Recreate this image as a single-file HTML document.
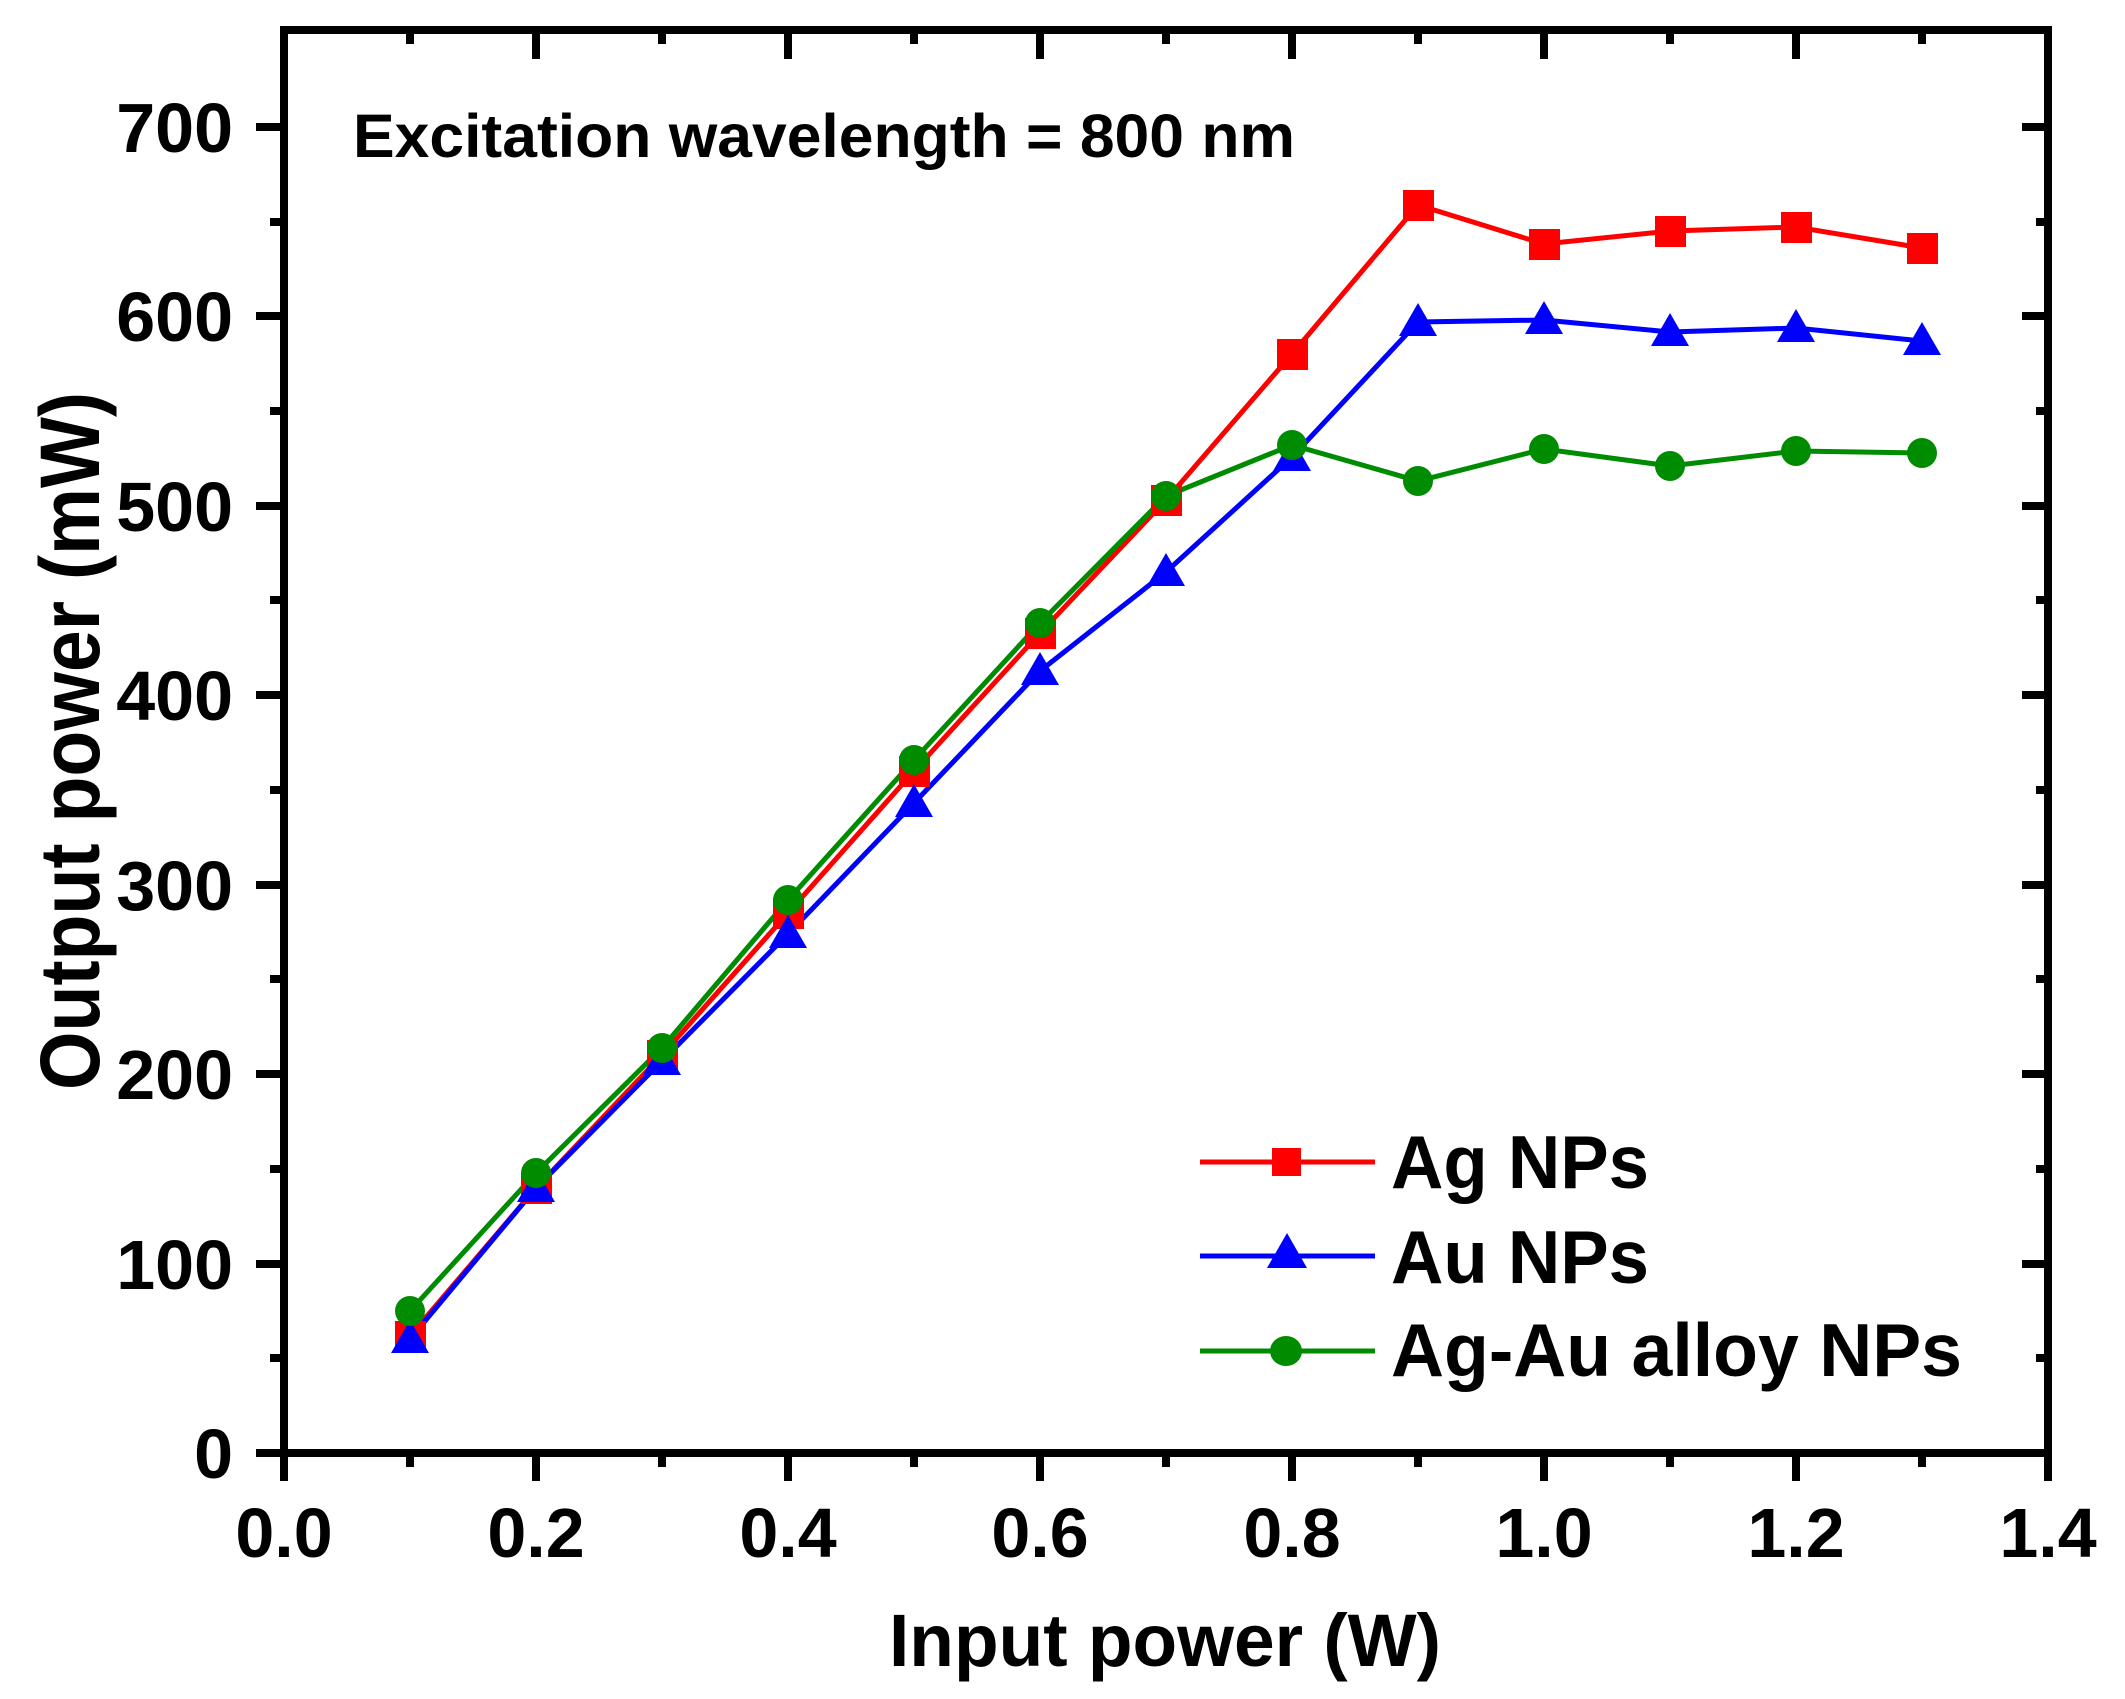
<!DOCTYPE html>
<html><head><meta charset="utf-8"><style>html,body{margin:0;padding:0;background:#fff}svg{display:block}</style></head>
<body>
<svg width="2125" height="1699" viewBox="0 0 2125 1699" xmlns="http://www.w3.org/2000/svg" font-family="Liberation Sans, Arial, sans-serif" font-weight="bold">
<rect width="2125" height="1699" fill="#fff"/>
<g stroke="#000" stroke-width="8" fill="none">
<rect x="284" y="30" width="1764" height="1423"/>
<path d="M284 1453V1481M536 1453V1481M788 1453V1481M1040 1453V1481M1292 1453V1481M1544 1453V1481M1796 1453V1481M2048 1453V1481"/>
<path d="M410 1453V1467M662 1453V1467M914 1453V1467M1166 1453V1467M1418 1453V1467M1670 1453V1467M1922 1453V1467"/>
<path d="M536 30V59M788 30V59M1040 30V59M1292 30V59M1544 30V59M1796 30V59"/>
<path d="M410 30V44M662 30V44M914 30V44M1166 30V44M1418 30V44M1670 30V44M1922 30V44"/>
<path d="M256 1453H284M256 1264H284M256 1074H284M256 885H284M256 695H284M256 506H284M256 316H284M256 127H284"/>
<path d="M270 1358H284M270 1169H284M270 979H284M270 790H284M270 600H284M270 411H284M270 222H284"/>
<path d="M2022 1264H2048M2022 1074H2048M2022 885H2048M2022 695H2048M2022 506H2048M2022 316H2048M2022 127H2048"/>
<path d="M2036 1358H2048M2036 1169H2048M2036 979H2048M2036 790H2048M2036 600H2048M2036 411H2048M2036 222H2048"/>
</g>
<g font-size="70" fill="#000">
<g text-anchor="middle">
<text x="284" y="1557">0.0</text><text x="536" y="1557">0.2</text><text x="788" y="1557">0.4</text><text x="1040" y="1557">0.6</text><text x="1292" y="1557">0.8</text><text x="1544" y="1557">1.0</text><text x="1796" y="1557">1.2</text><text x="2048" y="1557">1.4</text>
</g>
<g text-anchor="end">
<text x="233" y="1478">0</text><text x="233" y="1289">100</text><text x="233" y="1099">200</text><text x="233" y="910">300</text><text x="233" y="720">400</text><text x="233" y="531">500</text><text x="233" y="341">600</text><text x="233" y="152">700</text>
</g>
</g>
<text x="889" y="1666" font-size="74" textLength="552" lengthAdjust="spacingAndGlyphs">Input power (W)</text>
<text transform="translate(99,1090) rotate(-90)" font-size="84" textLength="698" lengthAdjust="spacingAndGlyphs">Output power (mW)</text>
<text x="353" y="157" font-size="61" textLength="942" lengthAdjust="spacingAndGlyphs">Excitation wavelength = 800 nm</text>

<polyline fill="none" stroke="#ff0000" stroke-width="5" points="410,1336 536,1188 662,1055 788,913 914,771 1040,633 1166,500 1292,354 1418,205 1544,244 1670,231 1796,227 1922,248"/>
<polyline fill="none" stroke="#0000ff" stroke-width="5" points="410,1339 536,1188 662,1061 788,934 914,803 1040,671 1166,572 1292,457 1418,322 1544,320 1670,332 1796,328 1922,341"/>
<polyline fill="none" stroke="#008c00" stroke-width="5" points="410,1311 536,1173 662,1048 788,900 914,760 1040,623 1166,496 1292,445 1418,481 1544,449 1670,466 1796,451 1922,453"/>
<g fill="#ff0000">
<rect x="395" y="1321" width="31" height="31"/><rect x="521" y="1173" width="31" height="31"/><rect x="647" y="1040" width="31" height="31"/><rect x="773" y="898" width="31" height="31"/><rect x="899" y="756" width="31" height="31"/><rect x="1025" y="618" width="31" height="31"/><rect x="1151" y="485" width="31" height="31"/><rect x="1277" y="339" width="31" height="31"/><rect x="1403" y="190" width="31" height="31"/><rect x="1529" y="229" width="31" height="31"/><rect x="1655" y="216" width="31" height="31"/><rect x="1781" y="212" width="31" height="31"/><rect x="1907" y="233" width="31" height="31"/>
</g>
<g fill="#0000ff">
<path d="M410 1320l19 33h-38z"/><path d="M536 1169l19 33h-38z"/><path d="M662 1042l19 33h-38z"/><path d="M788 915l19 33h-38z"/><path d="M914 784l19 33h-38z"/><path d="M1040 652l19 33h-38z"/><path d="M1166 553l19 33h-38z"/><path d="M1292 438l19 33h-38z"/><path d="M1418 303l19 33h-38z"/><path d="M1544 301l19 33h-38z"/><path d="M1670 313l19 33h-38z"/><path d="M1796 309l19 33h-38z"/><path d="M1922 322l19 33h-38z"/>
</g>
<g fill="#008c00">
<circle cx="410" cy="1311" r="15"/><circle cx="536" cy="1173" r="15"/><circle cx="662" cy="1048" r="15"/><circle cx="788" cy="900" r="15"/><circle cx="914" cy="760" r="15"/><circle cx="1040" cy="623" r="15"/><circle cx="1166" cy="496" r="15"/><circle cx="1292" cy="445" r="15"/><circle cx="1418" cy="481" r="15"/><circle cx="1544" cy="449" r="15"/><circle cx="1670" cy="466" r="15"/><circle cx="1796" cy="451" r="15"/><circle cx="1922" cy="453" r="15"/>
</g>

<line x1="1200" y1="1162" x2="1375" y2="1162" stroke="#ff0000" stroke-width="5"/>
<rect x="1272" y="1148" width="29" height="28" fill="#ff0000"/>
<line x1="1200" y1="1256" x2="1375" y2="1256" stroke="#0000ff" stroke-width="5"/>
<path d="M1287 1233l20 35h-40z" fill="#0000ff"/>
<line x1="1200" y1="1351" x2="1375" y2="1351" stroke="#008c00" stroke-width="5"/>
<ellipse cx="1286" cy="1351" rx="16" ry="15" fill="#008c00"/>
<g font-size="75" fill="#000">
<text x="1391" y="1188" textLength="258" lengthAdjust="spacingAndGlyphs">Ag NPs</text>
<text x="1391" y="1283" textLength="258" lengthAdjust="spacingAndGlyphs">Au NPs</text>
<text x="1391" y="1376" textLength="571" lengthAdjust="spacingAndGlyphs">Ag-Au alloy NPs</text>
</g>
</svg>
</body></html>
